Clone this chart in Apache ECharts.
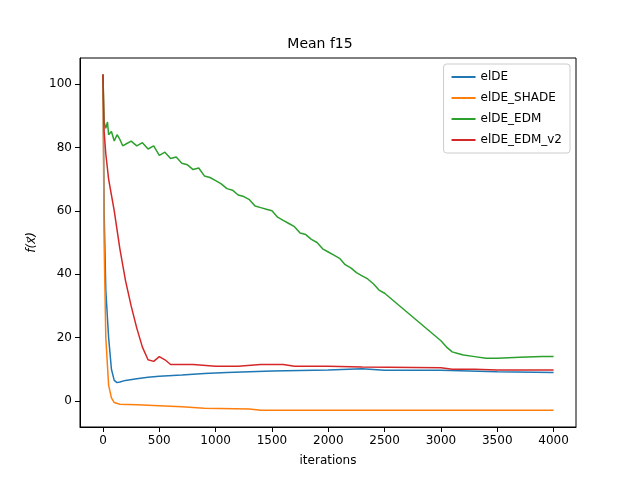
<!DOCTYPE html>
<html><head><meta charset="utf-8">
<script src="https://cdn.jsdelivr.net/npm/echarts@6/dist/echarts.min.js"></script>
<style>body{margin:0}#c{width:640px;height:480px}</style>
</head><body><div id="c"></div>
<script>
var xTicks = [0, 500, 1000, 1500, 2000, 2500, 3000, 3500, 4000];
var yTicks = [0, 20, 40, 60, 80, 100];

var elDE = [[0,103],[10,60],[25,35],[50,20],[75,10],[100,6.5],[125,5.8],[150,6],[200,6.5],[300,7],[400,7.5],[500,7.8],[700,8.2],[900,8.7],[1100,9],[1500,9.5],[2000,9.8],[2300,10.2],[2500,9.7],[3000,9.7],[3500,9.2],[4000,9]];
var elDE_SHADE = [[0,103],[10,50],[25,20],[50,5],[75,1],[100,-0.5],[150,-1],[300,-1.2],[500,-1.5],[700,-1.8],[900,-2.3],[1300,-2.5],[1400,-2.9],[4000,-2.9]];
var elDE_EDM = [[0,103],[10,88],[25,86],[40,88],[50,84],[75,85],[100,82],[125,84],[150,82.5],[175,80.5],[200,81],[250,82],[300,80.5],[350,81.5],[400,79.5],[450,80.5],[500,77.5],[550,78.5],[600,76.5],[650,77],[700,75],[750,74.5],[800,73],[850,73.5],[900,71],[950,70.5],[1000,69.5],[1050,68.5],[1100,67],[1150,66.5],[1200,65],[1250,64.5],[1300,63.5],[1350,61.5],[1400,61],[1450,60.5],[1500,60],[1550,58],[1600,57],[1650,56],[1700,55],[1750,53],[1800,52.5],[1850,51],[1900,50],[1950,48],[2000,47],[2050,46],[2100,45],[2150,43],[2200,42],[2250,40.5],[2300,39.5],[2350,38.5],[2400,37],[2450,35],[2500,34],[2550,32.5],[2600,31],[2650,29.5],[2700,28],[2750,26.5],[2800,25],[2850,23.5],[2900,22],[2950,20.5],[3000,19],[3050,17],[3100,15.5],[3150,15],[3200,14.5],[3300,14],[3400,13.5],[3500,13.5],[3700,13.8],[3900,14],[4000,14]];
var elDE_EDM_v2 = [[0,103],[10,85],[25,78],[50,70],[100,60],[150,48],[200,38],[250,30],[300,23],[350,17],[400,13],[450,12.5],[500,14],[550,13],[600,11.5],[800,11.5],[1000,11],[1200,11],[1400,11.5],[1600,11.5],[1700,11],[2000,11],[2300,10.7],[3000,10.5],[3100,10],[3300,10],[3500,9.8],[4000,9.8]];

var names = ['elDE', 'elDE_SHADE', 'elDE_EDM', 'elDE_EDM_v2'];
var colors = ['#1f77b4', '#ff7f0e', '#2ca02c', '#d62728'];
var sets = [elDE, elDE_SHADE, elDE_EDM, elDE_EDM_v2];

var chart = echarts.init(document.getElementById('c'));
chart.setOption({
  textStyle: {fontFamily: 'DejaVu Sans'},
  title: {text: 'Mean f15', left: 'center', top: 32, textStyle: {fontSize: 14, fontWeight: 'normal', color: '#000'}},
  legend: {orient: 'vertical', right: 70, top: 64, itemWidth: 24, itemHeight: 2, itemGap: 9,
    backgroundColor: '#fff', borderColor: '#ccc', borderWidth: 1, borderRadius: 3, padding: [7, 8],
    textStyle: {fontSize: 12, color: '#000'}, icon: 'rect', data: names},
  grid: {left: 80, right: 64, top: 58, bottom: 53, show: true, borderColor: '#000', borderWidth: 1},
  xAxis: {type: 'value', min: -204, max: 4199, name: 'iterations', nameLocation: 'middle', nameGap: 28,
    nameTextStyle: {fontSize: 12, color: '#000'},
    axisLine: {onZero: false, lineStyle: {color: '#000'}}, splitLine: {show: false},
    axisTick: {customValues: xTicks, lineStyle: {color: '#000'}},
    axisLabel: {customValues: xTicks, color: '#000', fontSize: 12, formatter: function (v) { return String(v); }}},
  yAxis: {type: 'value', min: -8.2, max: 108.2, name: 'f(x\u20d7)', nameLocation: 'middle', nameGap: 40,
    nameTextStyle: {fontSize: 12, color: '#000', fontStyle: 'italic'},
    axisLine: {show: true, onZero: false, lineStyle: {color: '#000'}}, splitLine: {show: false},
    axisTick: {show: true, customValues: yTicks, lineStyle: {color: '#000'}},
    axisLabel: {customValues: yTicks, color: '#000', fontSize: 12}},
  series: sets.map(function (d, i) {
    return {name: names[i], type: 'line', data: d, showSymbol: false, color: colors[i],
      lineStyle: {width: 1.5, color: colors[i]}, animation: false};
  })
});
</script></body></html>
